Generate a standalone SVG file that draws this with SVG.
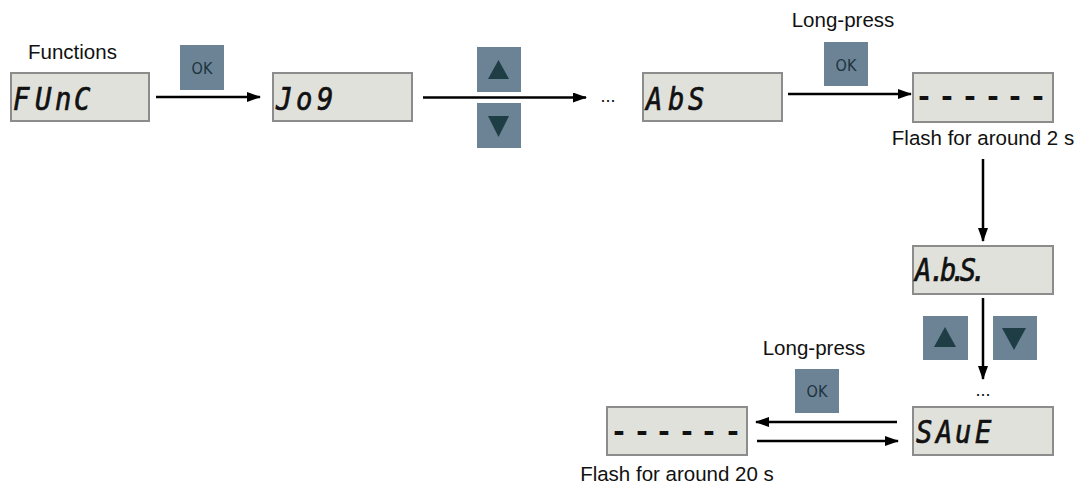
<svg xmlns="http://www.w3.org/2000/svg" width="1079" height="487" viewBox="0 0 1079 487">
<defs>
<style>
.box{fill:#e1e1dc;stroke:#8c8c8c;stroke-width:2}
.seg{font-family:"DejaVu Sans Mono",monospace;font-style:italic;font-size:32px;fill:#111;stroke:#111;stroke-width:0.7}
.dash{font-family:"DejaVu Sans Mono",monospace;font-weight:bold;font-size:28px;fill:#111;text-anchor:middle}
.lbl{font-family:"Liberation Sans",Arial,sans-serif;font-size:20.5px;fill:#111}
.btn{fill:#6c8396}
.ok{font-family:"DejaVu Sans Condensed","DejaVu Sans",sans-serif;font-size:16px;fill:#1d343f;text-anchor:middle}
.tri{fill:#1e3d45}
.line{stroke:#000;stroke-width:2.5;fill:none;marker-end:url(#ah)}
.dots{font-family:"Liberation Sans",Arial,sans-serif;font-size:18px;fill:#111;text-anchor:middle}
</style>
<marker id="ah" markerUnits="userSpaceOnUse" markerWidth="14" markerHeight="10" refX="13" refY="5" orient="auto">
<path d="M0,0 L14,5 L0,10 Z" fill="#000"/>
</marker>
</defs>

<g id="connectors">
<line class="line" x1="156" y1="97" x2="260" y2="97"/>
<line class="line" x1="423" y1="97.5" x2="586" y2="97.5"/>
<line class="line" x1="788" y1="94" x2="911" y2="94"/>
<line class="line" x1="983" y1="159" x2="983" y2="241"/>
<line class="line" x1="983" y1="298" x2="983" y2="379"/>
<line class="line" x1="897" y1="422" x2="756" y2="422"/>
<line class="line" x1="757" y1="441" x2="898" y2="441"/>
</g>

<g id="label-functions"><text class="lbl" x="28" y="59">Functions</text></g>

<g id="node-func">
<rect class="box" x="11" y="73" width="138" height="48"/>
<text class="seg" transform="scale(0.85,1)" x="15.3 41.2 64.7 87.1" y="110">FUnC</text>
</g>

<g id="btn-ok1">
<rect class="btn" x="180" y="45" width="44" height="45"/>
<text class="ok" x="202" y="74">OK</text>
</g>

<g id="node-jog">
<rect class="box" x="273" y="73" width="139" height="48"/>
<text class="seg" transform="scale(0.85,1)" x="324.7 348.2 372.9" y="110">Jo9</text>
</g>

<g id="btn-updown1">
<rect class="btn" x="477" y="47" width="44" height="45"/>
<path class="tri" d="M498.5,60 L488,79 L509,79 Z"/>
<rect class="btn" x="477" y="103" width="44" height="45"/>
<path class="tri" d="M488,116 L509,116 L498.5,137 Z"/>
</g>

<g id="dots1"><text class="dots" x="608" y="102">...</text></g>

<g id="node-abs">
<rect class="box" x="643" y="73" width="139" height="48"/>
<text class="seg" transform="scale(0.85,1)" x="760 785.9 809.4" y="110">AbS</text>
</g>

<g id="label-lp1"><text class="lbl" x="843" y="27" text-anchor="middle">Long-press</text></g>

<g id="btn-ok2">
<rect class="btn" x="824" y="42" width="44" height="44"/>
<text class="ok" x="846" y="71">OK</text>
</g>

<g id="node-flash1">
<rect class="box" x="913" y="73" width="140" height="49"/>
<text class="dash" x="924 947 970 993 1015 1038" y="106">------</text>
</g>

<g id="label-flash1"><text class="lbl" x="983" y="145" text-anchor="middle">Flash for around 2 s</text></g>

<g id="node-abs2">
<rect class="box" x="913" y="246" width="140" height="48"/>
<text class="seg" transform="scale(0.85,1)" x="1076.5 1093 1106 1118 1129 1142" y="281">A.b.S.</text>
</g>

<g id="btn-updown2">
<rect class="btn" x="923" y="316" width="45" height="44"/>
<path class="tri" d="M945,327 L934,347 L956,347 Z"/>
<rect class="btn" x="993" y="316" width="44" height="44"/>
<path class="tri" d="M1002,328 L1026,328 L1014,350 Z"/>
</g>

<g id="dots2"><text class="dots" x="983" y="396">...</text></g>

<g id="node-save">
<rect class="box" x="913" y="407" width="140" height="48"/>
<text class="seg" transform="scale(0.85,1)" x="1077.6 1101.2 1123.5 1147.1" y="443">SAuE</text>
</g>

<g id="label-lp2"><text class="lbl" x="814" y="355" text-anchor="middle">Long-press</text></g>

<g id="btn-ok3">
<rect class="btn" x="795" y="369" width="44" height="44"/>
<text class="ok" x="817" y="397">OK</text>
</g>

<g id="node-flash2">
<rect class="box" x="607" y="407" width="140" height="48"/>
<text class="dash" x="619 642 664 687 709 733" y="441">------</text>
</g>

<g id="label-flash2"><text class="lbl" x="677" y="481" text-anchor="middle">Flash for around 20 s</text></g>
</svg>
